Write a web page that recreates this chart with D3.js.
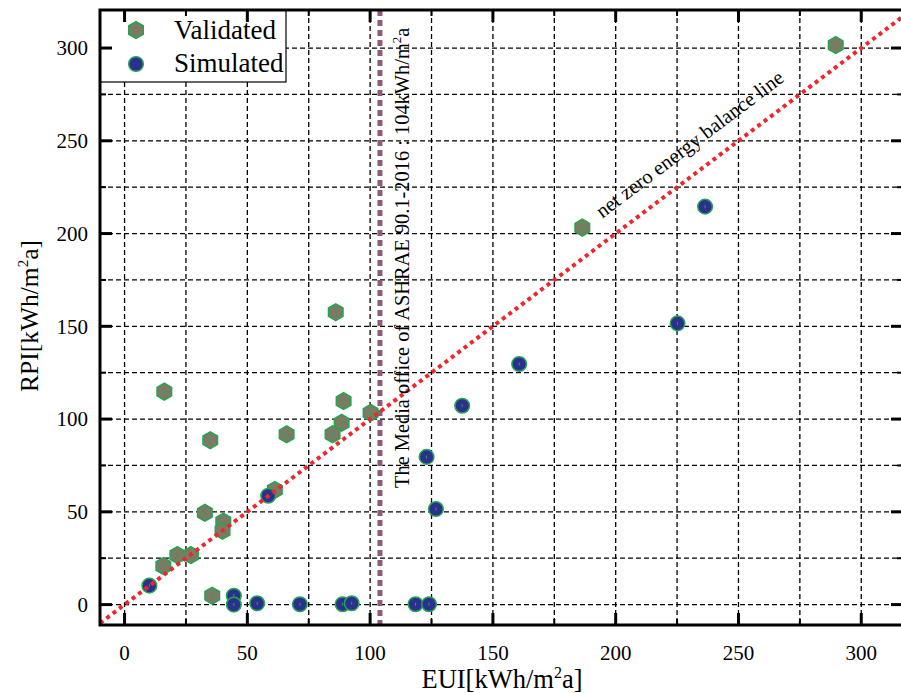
<!DOCTYPE html>
<html>
<head>
<meta charset="utf-8">
<script src="https://cdn.jsdelivr.net/npm/d3@7"></script>
<style>
  body { margin: 0; background: #fff; }
  svg text { font-family: "Liberation Serif", "Times New Roman", serif; fill: #000; }
</style>
</head>
<body>
<svg width="901" height="693" font-family="Liberation Serif, serif"></svg>
<script>
// values
var validatedEUI = [289.6, 186.4, 86.0, 16.2, 34.9, 66.0, 89.2, 88.4, 84.7, 100.2, 15.8, 21.5, 27.0, 32.7, 40.2, 39.9, 61.2, 35.7];
var validatedRPI = [301.6, 203.2, 157.6, 114.8, 88.6, 91.8, 109.7, 98.0, 91.8, 103.4, 20.8, 26.7, 26.7, 49.5, 44.7, 39.8, 61.8, 4.8];
var simulatedEUI = [10.1, 58.5, 44.5, 44.5, 54.0, 71.4, 88.8, 92.5, 118.5, 124.0, 123.0, 126.8, 137.5, 160.7, 225.2, 236.4];
var simulatedRPI = [10.2, 58.7, 4.8, 0, 0.7, 0.2, 0.2, 0.7, 0.2, 0.2, 79.6, 51.5, 107.2, 129.7, 151.6, 214.5];
var xTicks = [0, 50, 100, 150, 200, 250, 300];
var yTicks = [0, 50, 100, 150, 200, 250, 300];
var minorStep = 25;
var ashraeEUI = 104;
var seriesNames = ["Validated", "Simulated"];

var svg = d3.select("svg");
var L = 100, R = 903, T = 10, B = 625;

var x = d3.scaleLinear().domain([-10, 317]).range([L, R]);
var y = d3.scaleLinear().domain([-11, 320.5]).range([B, T]);

var gridX = d3.range(0, 317, minorStep);
var gridY = d3.range(0, 320.5, minorStep);

// dashed grid
var grid = svg.append("g");
grid.selectAll(".gx").data(gridX).enter().append("line")
    .attr("x1", function(d) { return x(d); }).attr("x2", function(d) { return x(d); })
    .attr("y1", T).attr("y2", B)
    .attr("stroke", "#000").attr("stroke-width", 1.3).attr("stroke-dasharray", "5,3");
grid.selectAll(".gy").data(gridY).enter().append("line")
    .attr("y1", function(d) { return y(d); }).attr("y2", function(d) { return y(d); })
    .attr("x1", L).attr("x2", R)
    .attr("stroke", "#000").attr("stroke-width", 1.3).attr("stroke-dasharray", "5,3");

// ASHRAE reference line
svg.append("line")
    .attr("x1", x(ashraeEUI)).attr("x2", x(ashraeEUI))
    .attr("y1", T).attr("y2", B)
    .attr("stroke", "#8e5b78").attr("stroke-width", 5).attr("stroke-dasharray", "6,4");

function hexPath(r) {
  var p = d3.path();
  for (var k = 0; k < 6; k++) {
    var a = (-90 + 60 * k) * Math.PI / 180;
    if (k === 0) p.moveTo(r * Math.cos(a), r * Math.sin(a));
    else p.lineTo(r * Math.cos(a), r * Math.sin(a));
  }
  p.closePath();
  return p.toString();
}

// validated points
var vData = validatedEUI.map(function(d, i) { return [d, validatedRPI[i]]; });
var vg = svg.append("g").selectAll("g").data(vData).enter().append("g")
    .attr("transform", function(d) { return "translate(" + x(d[0]) + "," + y(d[1]) + ")"; });
vg.append("path").attr("d", hexPath(8.4))
    .attr("fill", "#7b7b63").attr("stroke", "#22a650").attr("stroke-width", 1.5);
vg.append("rect").attr("x", -0.5).attr("y", -1.5).attr("width", 1).attr("height", 3).attr("fill", "#22a650");

// simulated points
var sData = simulatedEUI.map(function(d, i) { return [d, simulatedRPI[i]]; });
var sg = svg.append("g").selectAll("g").data(sData).enter().append("g")
    .attr("transform", function(d) { return "translate(" + x(d[0]) + "," + y(d[1]) + ")"; });
sg.append("circle").attr("r", 7.3)
    .attr("fill", "#2b2f8e").attr("stroke", "#22a650").attr("stroke-width", 1.5);
sg.append("rect").attr("x", -0.5).attr("y", -1.5).attr("width", 1).attr("height", 3).attr("fill", "#22a650");

// net zero line y = x
svg.append("line")
    .attr("x1", x(-10)).attr("y1", y(-10))
    .attr("x2", x(317)).attr("y2", y(317))
    .attr("stroke", "#f0262c").attr("stroke-width", 4).attr("stroke-dasharray", "4,4");

var ang = -Math.atan((y(0) - y(100)) / (x(100) - x(0))) * 180 / Math.PI;
svg.append("text")
    .attr("transform", "translate(" + x(194.5) + "," + y(208) + ") rotate(" + ang + ")")
    .attr("font-size", 20.5)
    .text("net zero energy balance line");

var vt = svg.append("text")
    .attr("transform", "translate(" + (x(ashraeEUI) + 29) + "," + 488 + ") rotate(-90)")
    .attr("font-size", 20.4);
vt.append("tspan").text("The Media office of ASHRAE 90.1-2016 : 104kWh/m");
vt.append("tspan").attr("font-size", 13).attr("dy", -8).text("2");
vt.append("tspan").attr("dy", 8).text("a");

// legend
svg.append("rect").attr("x", L).attr("y", T).attr("width", 186).attr("height", 72)
    .attr("fill", "#fff").attr("stroke", "#000").attr("stroke-width", 1.2);
svg.append("path").attr("d", hexPath(8.4)).attr("transform", "translate(136,30)")
    .attr("fill", "#7b7b63").attr("stroke", "#22a650").attr("stroke-width", 1.5);
svg.append("circle").attr("cx", 136).attr("cy", 64).attr("r", 7.3)
    .attr("fill", "#2b2f8e").attr("stroke", "#22a650").attr("stroke-width", 1.5);
svg.selectAll(".lg").data(seriesNames).enter().append("text")
    .attr("x", 174).attr("y", function(d, i) { return 39 + i * 33; })
    .attr("font-size", 27).text(function(d) { return d; });

// frame
svg.append("rect").attr("x", L).attr("y", T).attr("width", R - L).attr("height", B - T)
    .attr("fill", "none").attr("stroke", "#000").attr("stroke-width", 3);

// ticks on all four sides, pointing in
var ticks = svg.append("g").attr("stroke", "#000");
gridX.forEach(function(d) {
  var major = d % 50 === 0, len = major ? 12 : 6;
  ticks.append("line").attr("x1", x(d)).attr("x2", x(d)).attr("y1", B).attr("y2", B - len).attr("stroke-width", major ? 3 : 2);
  ticks.append("line").attr("x1", x(d)).attr("x2", x(d)).attr("y1", T).attr("y2", T + len).attr("stroke-width", major ? 3 : 2);
});
gridY.forEach(function(d) {
  var major = d % 50 === 0, len = major ? 12 : 6;
  ticks.append("line").attr("y1", y(d)).attr("y2", y(d)).attr("x1", L).attr("x2", L + len).attr("stroke-width", major ? 3 : 2);
  ticks.append("line").attr("y1", y(d)).attr("y2", y(d)).attr("x1", R).attr("x2", R - len).attr("stroke-width", major ? 3 : 2);
});

svg.selectAll(".xl").data(xTicks).enter().append("text")
    .attr("x", function(d) { return x(d); }).attr("y", 660)
    .attr("text-anchor", "middle").attr("font-size", 21).text(function(d) { return d; });
svg.selectAll(".yl").data(yTicks).enter().append("text")
    .attr("x", 88).attr("y", function(d) { return y(d); }).attr("dy", "0.35em")
    .attr("text-anchor", "end").attr("font-size", 21).text(function(d) { return d; });

// axis titles
var xt = svg.append("text").attr("x", 502).attr("y", 688).attr("text-anchor", "middle").attr("font-size", 26.5);
xt.append("tspan").text("EUI[kWh/m");
xt.append("tspan").attr("font-size", 16).attr("dy", -10).text("2");
xt.append("tspan").attr("dy", 10).text("a]");

var yt = svg.append("text").attr("transform", "translate(38,316) rotate(-90)").attr("text-anchor", "middle").attr("font-size", 25.5);
yt.append("tspan").text("RPI[kWh/m");
yt.append("tspan").attr("font-size", 15).attr("dy", -10).text("2");
yt.append("tspan").attr("dy", 10).text("a]");
</script>
</body>
</html>
